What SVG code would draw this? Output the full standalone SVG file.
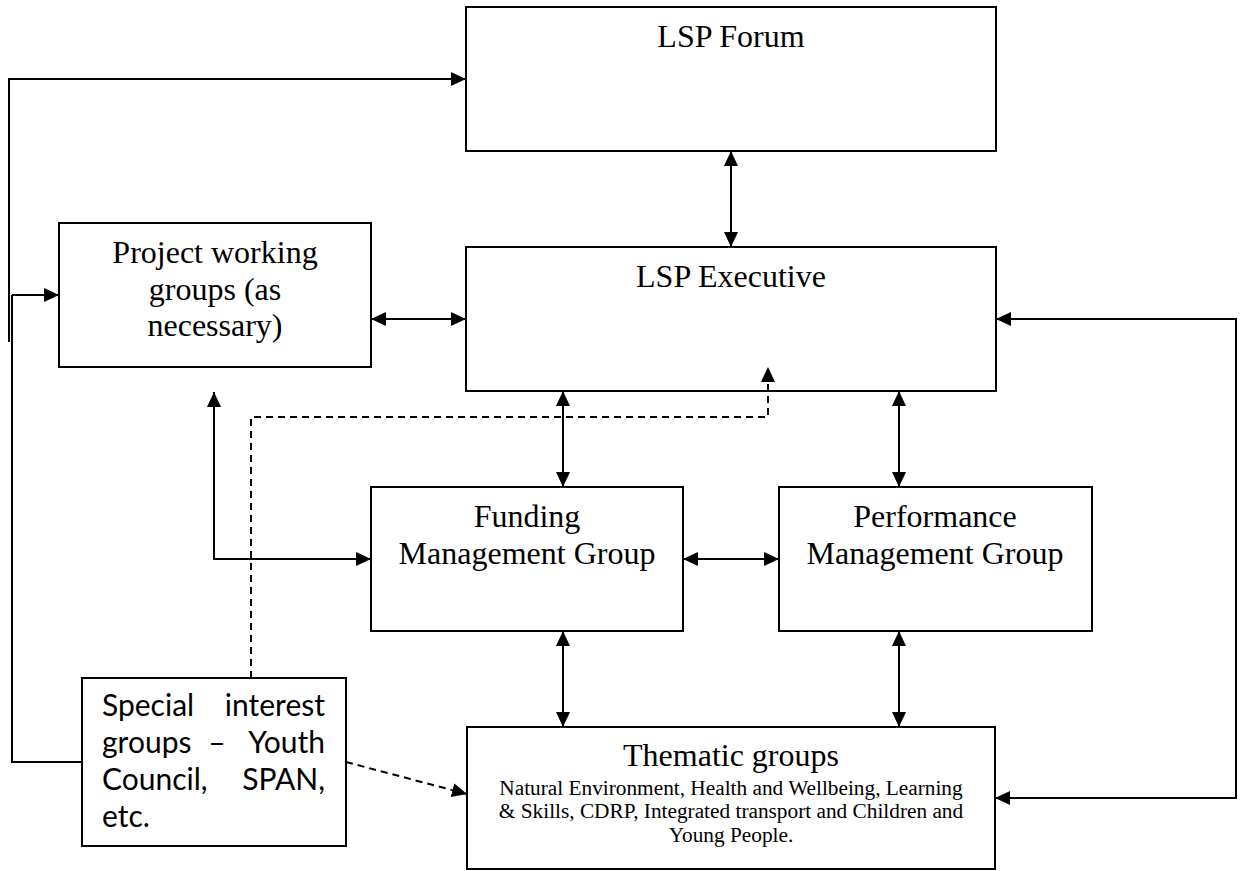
<svg xmlns="http://www.w3.org/2000/svg" width="1243" height="871" viewBox="0 0 1243 871">
<style>
.box{fill:#fff;stroke:#000;stroke-width:2}
.t{font-family:"Liberation Serif","Times New Roman",serif;font-size:32px;fill:#000;text-anchor:middle}
.s{font-family:"Liberation Serif","Times New Roman",serif;font-size:21.3px;fill:#000;text-anchor:middle}
.g{font-family:Lato,"Open Sans",sans-serif;font-size:30px;fill:#000}
.c{fill:none;stroke:#000;stroke-width:2}
.a{marker-end:url(#ah)}
.b{marker-start:url(#ah);marker-end:url(#ah)}
.d{stroke-dasharray:7 5}
</style>
<defs>
<marker id="ah" markerUnits="userSpaceOnUse" markerWidth="16" markerHeight="16" refX="15" refY="7" orient="auto-start-reverse" viewBox="0 0 16 14">
<path d="M0,0 L15,7 L0,14 z" fill="#000"/>
</marker>
</defs>
<rect width="1243" height="871" fill="#fff"/>
<g id="forum"><rect class="box" x="466" y="7" width="530" height="144"/><text class="t" x="731" y="47">LSP Forum</text></g>
<g id="executive"><rect class="box" x="466" y="247" width="530" height="144"/><text class="t" x="731" y="287">LSP Executive</text></g>
<g id="project"><rect class="box" x="59" y="223" width="312" height="144"/><text class="t" x="215" y="263">Project working</text><text class="t" x="215" y="300">groups (as</text><text class="t" x="215" y="336">necessary)</text></g>
<g id="funding"><rect class="box" x="371" y="487" width="312" height="144"/><text class="t" x="527" y="527">Funding</text><text class="t" x="527" y="564">Management Group</text></g>
<g id="performance"><rect class="box" x="779" y="487" width="313" height="144"/><text class="t" x="935" y="527">Performance</text><text class="t" x="935" y="564">Management Group</text></g>
<g id="thematic"><rect class="box" x="467" y="727" width="528" height="142"/><text class="t" x="731" y="766">Thematic groups</text><text class="s" x="731" y="795">Natural Environment, Health and Wellbeing, Learning</text><text class="s" x="731" y="818">&amp; Skills, CDRP, Integrated transport and Children and</text><text class="s" x="731" y="842">Young People.</text></g>
<g id="special"><rect class="box" x="82" y="678" width="264" height="168"/>
<text class="g" x="102" y="716">Special</text><text class="g" x="325" y="716" text-anchor="end">interest</text>
<text class="g" x="102" y="753">groups</text><text class="g" x="217" y="753" text-anchor="middle">–</text><text class="g" x="325" y="753" text-anchor="end">Youth</text>
<text class="g" x="102" y="790">Council,</text><text class="g" x="325" y="790" text-anchor="end">SPAN,</text>
<text class="g" x="102" y="827">etc.</text></g>
<g id="connectors">
<path class="c a" d="M9,342 V79 H466"/>
<path class="c" d="M82,762 H12 V295"/>
<path class="c a" d="M12,295 H59"/>
<path class="c b" d="M731,151 V247"/>
<path class="c b" d="M371,319 H466"/>
<path class="c b" d="M563,391 V487"/>
<path class="c b" d="M899,391 V487"/>
<path class="c b" d="M683,559 H779"/>
<path class="c b" d="M563,631 V727"/>
<path class="c b" d="M899,631 V727"/>
<path class="c b" d="M214,392 V559 H371"/>
<path class="c b" d="M996,319 H1236 V798 H995"/>
<path class="c d a" d="M251,678 V417 H768 V367"/>
<path class="c d a" d="M346,762 L467,794"/>
</g>
</svg>
